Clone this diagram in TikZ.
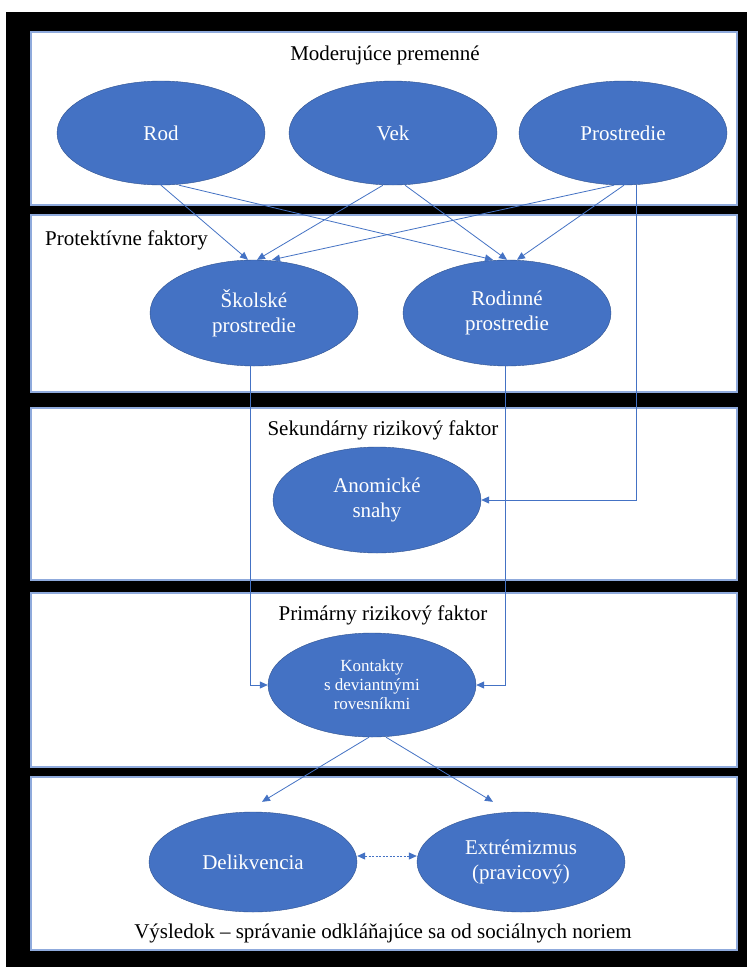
\documentclass[tikz,border=0pt]{standalone}
\usepackage{fontspec}
\setmainfont{Liberation Serif}
\usepackage{tikz}
\usetikzlibrary{positioning,shapes.geometric,arrows.meta}
\definecolor{ovalblue}{HTML}{4472C4}
\definecolor{ovalline}{HTML}{2F528F}
\definecolor{panelline}{HTML}{8FAADC}

\begin{document}
\begin{tikzpicture}[x=1pt,y=-1pt,
        oval/.style={ellipse, draw=ovalline, fill=ovalblue, text=white, align=center,
            minimum width=208pt, minimum height=104pt, inner sep=0pt,
            font=\fontsize{21}{25}\selectfont},
        panel/.style={draw=panelline, line width=1.5pt, fill=white},
        head/.style={inner sep=0pt, font=\fontsize{21}{25}\selectfont},
        conn/.style={draw=ovalblue, line width=0.8pt, -{Triangle[width=7pt,length=8pt]}}]
            % frame and the five bands
            \useasboundingbox (0,0) rectangle (747,967);
            \fill[black] (6,12) rectangle (747,967);
            \draw[panel] (31,32) rectangle (737,205);
            \draw[panel] (31,215) rectangle (737,392);
            \draw[panel] (31,408) rectangle (737,580);
            \draw[panel] (31,593) rectangle (737,767);
            \draw[panel] (31,777) rectangle (737,950);
            \node[head] (t1) at (385,55) {Moderujúce premenné};
            \node[head, anchor=west] (t2) at (45,240) {Protektívne faktory};
            \node[head] (t3) at (383,430) {Sekundárny rizikový faktor};
            \node[head] (t4) at (383,615) {Primárny rizikový faktor};
            \node[head] (t5) at (383,933) {Výsledok – správanie odkláňajúce sa od sociálnych noriem};
            \node[oval] (rod) at (161,133) {Rod};
            \node[oval] (vek) at (393,133) {Vek};
            \node[oval] (prost) at (623,133) {Prostredie};
            \node[oval, minimum height=106pt] (skol) at (254,313) {Školské\\prostredie};
            \node[oval, minimum height=106pt] (rodin) at (507,313) {Rodinné\\prostredie};
            \node[oval, minimum height=106pt] (anom) at (377,500) {Anomické\\snahy};
            \node[oval, font=\fontsize{17}{19}\selectfont] (kont) at (372,685) {Kontakty\\s deviantnými\\rovesníkmi};
            \node[oval, minimum height=100pt] (deli) at (253,862) {Delikvencia};
            \node[oval, minimum height=100pt] (extr) at (521,862) {Extrémizmus\\(pravicový)};
            \draw[conn] (rod.south) -- ([xshift=-6pt]skol.north);
            \draw[conn] ([xshift=18pt]rod.south) -- ([xshift=-14pt]rodin.north);
            \draw[conn] ([xshift=-10pt]vek.south) -- ([xshift=3pt]skol.north);
            \draw[conn] ([xshift=12pt]vek.south) -- (rodin.north);
            \draw[conn] ([xshift=-9pt]prost.south) -- ([xshift=18pt]skol.north);
            \draw[conn] ([xshift=1pt]prost.south) -- ([xshift=10pt]rodin.north);
            \draw[conn] ([xshift=13pt]prost.south) |- (anom.east);
            \draw[conn] ([xshift=-4pt]skol.south) |- (kont.west);
            \draw[conn] ([xshift=-2pt]rodin.south) |- (kont.east);
            \draw[conn] ([xshift=-3pt]kont.south) -- ([xshift=9pt,yshift=10pt]deli.north);
            \draw[conn] ([xshift=14pt]kont.south) -- ([xshift=-28pt,yshift=10pt]extr.north);
            \draw[conn, {Triangle[width=7pt,length=8pt]}-{Triangle[width=7pt,length=8pt]},
                dash pattern=on 2pt off 1.5pt] ([yshift=6pt]deli.east) -- ([yshift=6pt]extr.west);
        \end{tikzpicture}
\end{document}
